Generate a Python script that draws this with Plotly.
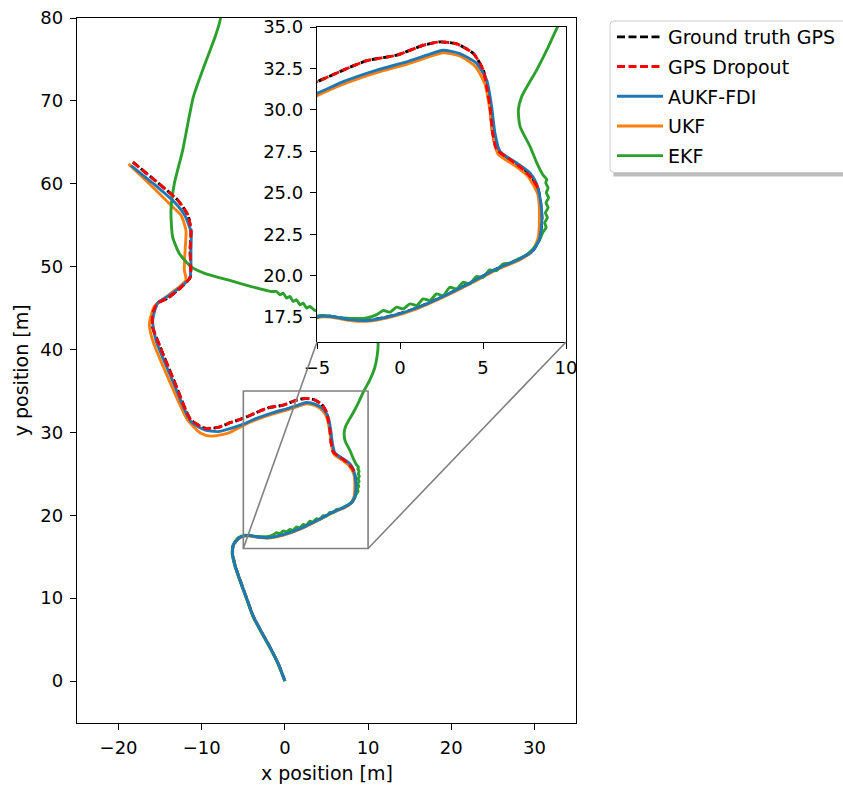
import plotly.graph_objects as go

# ---------------- trajectory data [m] ----------------
truth_x = [0.0, -0.8, -1.8, -2.8, -3.8, -4.6, -5.4, -6.0, -6.3, -6.2, -5.6, -4.8, -4.2, -3.0, -2.0,
           -0.4, 1.0, 2.6, 4.2, 5.8, 7.2, 8.0, 8.4, 8.55, 8.45, 8.3, 8.0, 7.43, 6.63, 5.83, 5.58,
           5.42, 5.22, 5.02, 4.42, 3.42, 2.41, 1.4, -0.2, -2.0, -3.42, -5.0, -6.5, -8.05, -9.6,
           -11.3, -13.2, -15.0, -15.9, -15.9, -15.3, -14.1, -12.5, -11.4, -11.4, -11.3, -11.66,
           -12.86, -15.5, -18.27]
truth_y = [0.0, 2.1, 4.1, 5.9, 7.8, 10.0, 12.2, 14.0, 15.4, 16.4, 17.2, 17.55, 17.55, 17.35, 17.3,
           17.6, 18.05, 18.75, 19.55, 20.4, 21.0, 21.5, 22.2, 23.4, 24.6, 25.3, 25.8, 26.4, 27.0,
           27.6, 28.6, 30.2, 31.4, 32.4, 33.4, 33.98, 34.1, 33.9, 33.3, 32.97, 32.4, 31.7, 31.2,
           30.6, 30.5, 31.5, 35.9, 40.3, 42.7, 44.4, 45.6, 46.2, 47.5, 48.7, 52.0, 54.4, 56.2,
           58.0, 60.3, 62.6]

# GPS dropout: the final stretch of the ground-truth track
dropout_start = 25
dropout_x = truth_x[dropout_start:]
dropout_y = truth_y[dropout_start:]

aukf_x = [0.0, -0.8, -1.8, -2.8, -3.8, -4.6, -5.4, -6.0, -6.3, -6.2, -5.6, -4.8, -4.2, -3.0, -2.0,
          -0.4, 1.0, 2.6, 4.2, 5.8, 7.2, 8.0, 8.4, 8.55, 8.45, 8.2, 7.83, 7.03, 6.02, 5.72, 5.52,
          5.22, 4.62, 3.6, 2.6, 1.6, 0.4, -1.4, -3.42, -5.0, -6.5, -8.05, -9.65, -11.3, -13.7,
          -15.5, -15.9, -15.3, -14.1, -12.5, -11.45, -11.3, -11.3, -12.05, -13.3, -15.8, -18.5]
aukf_y = [0.0, 2.1, 4.1, 5.9, 7.8, 10.0, 12.2, 14.0, 15.4, 16.4, 17.2, 17.55, 17.55, 17.35, 17.3,
          17.6, 18.05, 18.75, 19.55, 20.4, 21.0, 21.5, 22.2, 23.4, 24.6, 25.6, 26.2, 26.8, 27.5,
          28.6, 30.2, 31.8, 32.8, 33.4, 33.6, 33.3, 32.9, 32.4, 31.7, 31.0, 30.5, 30.1, 30.3,
          31.3, 36.7, 41.1, 43.5, 45.6, 46.4, 47.6, 48.6, 52.0, 54.2, 56.2, 57.8, 60.0, 62.2]

ukf_x = [0.0, -0.8, -1.8, -2.8, -3.8, -4.6, -5.4, -6.0, -6.3, -6.2, -5.6, -4.8, -4.2, -3.0, -2.0,
         -0.4, 1.0, 2.6, 4.2, 5.8, 7.2, 7.9, 8.3, 8.4, 8.3, 7.7, 6.9, 5.9, 5.6, 5.4, 5.1, 4.55,
         3.6, 2.6, 1.6, 0.4, -1.4, -3.42, -5.0, -6.85, -8.9, -10.1, -11.7, -14.1, -15.9, -16.3,
         -15.7, -14.5, -12.9, -11.9, -12.1, -12.0, -11.9, -12.5, -13.7, -16.3, -18.8]
ukf_y = [0.0, 2.1, 4.1, 5.9, 7.8, 10.0, 12.2, 14.0, 15.4, 16.4, 17.2, 17.5, 17.5, 17.3, 17.25,
         17.55, 18.0, 18.7, 19.5, 20.35, 20.95, 21.4, 22.2, 23.4, 24.9, 26.0, 26.65, 27.35, 28.5,
         30.1, 31.6, 32.6, 33.25, 33.45, 33.15, 32.75, 32.25, 31.55, 30.85, 29.9, 29.55, 29.9,
         31.5, 36.7, 41.1, 43.1, 45.2, 46.2, 47.4, 48.4, 49.6, 52.0, 54.4, 56.2, 57.4, 60.0, 62.4]

ekf_x = [0.0, -0.85, -1.85, -2.85, -3.85, -4.65, -5.45, -6.05, -6.35, -6.2, -5.6, -4.8, -4.2, -3.4,
         -2.0, -1.4, -1.0, -0.6, -0.2, 0.2, 0.6, 1.0, 1.4, 1.8, 2.2, 2.6, 3.0, 3.4, 3.8, 4.2, 4.6,
         5.0, 5.4, 5.8, 6.2, 6.6, 7.03, 7.63, 8.1, 8.43, 8.6, 8.8, 8.72, 8.88, 8.76, 8.92, 8.8,
         8.95, 8.82, 8.92, 8.78, 8.84, 8.6, 8.2, 7.83, 7.23, 7.13, 7.33, 8.23, 8.84, 9.44, 10.2,
         10.8, 11.1, 11.2, 10.8, 8.5, 5.5, 3.57, 3.0, 2.6, 2.2, 1.8, 1.4, 1.0, 0.6, 0.2, -0.2,
         -0.6, -1.0, -1.65, -4.05, -6.85, -9.65, -11.3, -12.7, -13.5, -13.7, -13.3, -12.3, -11.0,
         -9.6, -8.4, -7.8, -7.5]
ekf_y = [0.0, 2.1, 4.1, 5.9, 7.8, 10.0, 12.2, 14.0, 15.4, 16.5, 17.3, 17.6, 17.55, 17.45, 17.45,
         17.65, 17.9, 17.8, 18.1, 18.0, 18.3, 18.2, 18.6, 18.5, 18.9, 18.8, 19.3, 19.2, 19.6,
         19.5, 19.95, 19.9, 20.35, 20.3, 20.7, 20.75, 20.96, 21.27, 21.7, 22.2, 22.6, 22.9, 23.2,
         23.5, 23.8, 24.1, 24.4, 24.7, 25.0, 25.3, 25.6, 25.8, 26.1, 26.9, 27.8, 29.0, 30.0, 30.8,
         32.4, 33.6, 34.9, 36.3, 37.8, 39.3, 40.7, 42.2, 43.3, 44.2, 44.75, 45.2, 45.0, 45.6,
         45.4, 46.0, 45.8, 46.4, 46.2, 46.8, 46.6, 47.0, 47.0, 47.6, 48.4, 49.2, 50.0, 51.6,
         53.6, 56.8, 60.0, 64.0, 70.5, 74.5, 77.7, 79.7, 82.0]

# ---------------- axis setup ----------------
main_xrange = [-25, 35]
main_yrange = [-5, 80]
main_xticks = [-20, -10, 0, 10, 20, 30]
main_yticks = [0, 10, 20, 30, 40, 50, 60, 70, 80]
inset_xrange = [-5, 10]
inset_yrange = [16, 35]
inset_xticks = [-5, 0, 5, 10]
inset_yticks = [17.5, 20.0, 22.5, 25.0, 27.5, 30.0, 32.5, 35.0]

W, H = 843, 785
main_dx = [77 / W, 576 / W]
main_dy = [(H - 722.5) / H, (H - 18) / H]
inset_dx = [317 / W, 566 / W]
inset_dy = [(H - 342) / H, (H - 27) / H]

FONT = "DejaVu Sans"
C_BLUE, C_ORANGE, C_GREEN = "#1f77b4", "#ff7f0e", "#2ca02c"
LW = 2.9

series = [
    # name, x, y, color, dash, legend rank
    ("Ground truth GPS", truth_x, truth_y, "black", "8px,3.5px", 1),
    ("UKF", ukf_x, ukf_y, C_ORANGE, "solid", 4),
    ("EKF", ekf_x, ekf_y, C_GREEN, "solid", 5),
    ("AUKF-FDI", aukf_x, aukf_y, C_BLUE, "solid", 3),
    ("GPS Dropout", dropout_x, dropout_y, "#ff0000", "8px,3.5px", 2),
]

fig = go.Figure()
for name, xs, ys, col, dash, rank in series:
    fig.add_trace(go.Scatter(x=xs, y=ys, mode="lines", name=name, legendrank=rank,
                             legendgroup=name,
                             line=dict(color=col, width=LW, dash=dash, shape="spline",
                                       smoothing=0.6),
                             xaxis="x", yaxis="y"))
for name, xs, ys, col, dash, rank in series:
    fig.add_trace(go.Scatter(x=xs, y=ys, mode="lines", name=name, showlegend=False,
                             line=dict(color=col, width=LW, dash=dash, shape="spline",
                                       smoothing=0.6),
                             xaxis="x2", yaxis="y2"))

axis_common = dict(showgrid=False, zeroline=False, showline=True, linecolor="black",
                   linewidth=1.3, mirror=True, ticks="outside", ticklen=6, tickwidth=1.3,
                   tickcolor="black", tickfont=dict(family=FONT, size=18, color="black"),
                   automargin=False, ticklabelstandoff=3)

fig.update_layout(
    width=W, height=H,
    margin=dict(l=0, r=0, t=0, b=0),
    paper_bgcolor="white", plot_bgcolor="white",
    font=dict(family=FONT, size=18, color="black"),
    xaxis=dict(domain=main_dx, range=main_xrange, tickvals=main_xticks, **axis_common),
    yaxis=dict(domain=main_dy, range=main_yrange, tickvals=main_yticks, **axis_common),
    xaxis2=dict(domain=inset_dx, range=inset_xrange, tickvals=inset_xticks, anchor="y2",
                **axis_common),
    yaxis2=dict(domain=inset_dy, range=inset_yrange, tickvals=inset_yticks, anchor="x2",
                tickformat=".1f", **axis_common),
    showlegend=True,
    legend=dict(x=612 / W, y=1 - 18 / H, xanchor="left", yanchor="top",
                bgcolor="rgba(0,0,0,0)", borderwidth=0, itemwidth=46,
                tracegroupgap=2, traceorder="grouped",
                font=dict(family=FONT, size=19, color="black")),
)

# axis titles
fig.add_annotation(text="x position [m]", xref="paper", yref="paper",
                   x=(main_dx[0] + main_dx[1]) / 2, y=1 - 773 / H, showarrow=False,
                   xanchor="center", yanchor="middle",
                   font=dict(family=FONT, size=19, color="black"))
fig.add_annotation(text="y position [m]", xref="paper", yref="paper",
                   x=21 / W, y=(main_dy[0] + main_dy[1]) / 2, showarrow=False, textangle=-90,
                   xanchor="center", yanchor="middle",
                   font=dict(family=FONT, size=19, color="black"))

# zoom indicator box on the main axes and connectors to the inset corners
def to_main_x(px):
    return main_xrange[0] + (px - main_dx[0]) / (main_dx[1] - main_dx[0]) * (main_xrange[1] - main_xrange[0])

def to_main_y(py):
    return main_yrange[0] + (py - main_dy[0]) / (main_dy[1] - main_dy[0]) * (main_yrange[1] - main_yrange[0])

GRAY = "#808080"
fig.add_shape(type="rect", xref="x", yref="y", x0=inset_xrange[0], x1=inset_xrange[1],
              y0=inset_yrange[0], y1=inset_yrange[1], line=dict(color=GRAY, width=1.6),
              layer="above")
fig.add_shape(type="line", xref="x", yref="y", x0=inset_xrange[0], y0=inset_yrange[0],
              x1=to_main_x(inset_dx[0]), y1=to_main_y(inset_dy[0]),
              line=dict(color=GRAY, width=1.6), layer="above")
fig.add_shape(type="line", xref="x", yref="y", x0=inset_xrange[1], y0=inset_yrange[0],
              x1=to_main_x(inset_dx[1]), y1=to_main_y(inset_dy[0]),
              line=dict(color=GRAY, width=1.6), layer="above")

# legend frame with drop shadow
lx0, lx1 = 610 / W, 860 / W
ly0, ly1 = 1 - 172.5 / H, 1 - 21 / H
sx, sy = 3.5 / W, 4 / H
fig.add_shape(type="rect", xref="paper", yref="paper", x0=lx0 + sx, x1=lx1 + sx,
              y0=ly0 - sy, y1=ly1 - sy, fillcolor="#bdbdbd", line=dict(width=0), layer="above")
rx, ry = 4 / W, 4 / H
frame = (f"M{lx0 + rx},{ly1} L{lx1},{ly1} L{lx1},{ly0} L{lx0 + rx},{ly0} "
         f"Q{lx0},{ly0} {lx0},{ly0 + ry} L{lx0},{ly1 - ry} Q{lx0},{ly1} {lx0 + rx},{ly1} Z")
fig.add_shape(type="path", xref="paper", yref="paper", path=frame, fillcolor="white",
              line=dict(color="#cccccc", width=1), layer="above")

fig.write_html("out.html")
